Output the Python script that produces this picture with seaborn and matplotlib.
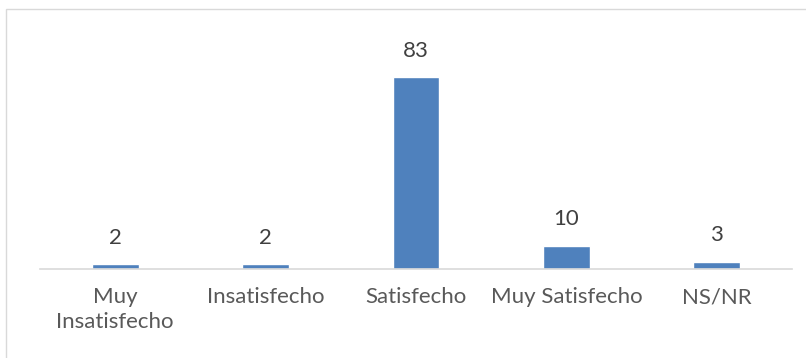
import matplotlib.pyplot as plt
import seaborn as sns
import pandas as pd
from matplotlib.patches import Rectangle

categories = ['Muy\nInsatisfecho', 'Insatisfecho', 'Satisfecho', 'Muy Satisfecho', 'NS/NR']
values = [2, 2, 83, 10, 3]

df = pd.DataFrame({'categoria': categories, 'porcentaje': values})

sns.set_theme(style='white')
plt.rcParams['font.family'] = ['Lato', 'DejaVu Sans']

W, H = 806, 358
fig = plt.figure(figsize=(W / 100, H / 100), dpi=100)

# chart border (runs past the cropped image on the right and bottom)
fig.patches.append(Rectangle((6 / W, -0.2), 1.2, 1.2 - 9 / H, transform=fig.transFigure,
                             fill=False, edgecolor='#D9D9D9', linewidth=1))

ax = fig.add_axes([40 / W, 1 - 269 / H, 752 / W, (269 - 61) / H])
sns.barplot(data=df, x='categoria', y='porcentaje', color='#4F81BD',
            width=0.31, saturation=1, ax=ax)
ax.set_ylim(0, 90)
ax.set_xlim(-0.5, 4.5)
for c in ax.containers:
    ax.bar_label(c, padding=12, fontsize=16, color='#404040')

ax.set_yticks([])
ax.set_xlabel('')
ax.set_ylabel('')
ax.tick_params(axis='x', length=0, pad=13, labelsize=16, labelcolor='#595959')
for lbl in ax.get_xticklabels():
    lbl.set_linespacing(1.3)
for s in ['top', 'right', 'left']:
    ax.spines[s].set_visible(False)
ax.spines['bottom'].set_color('#D9D9D9')
ax.spines['bottom'].set_linewidth(1.2)

fig.savefig('out.png', dpi=100)
